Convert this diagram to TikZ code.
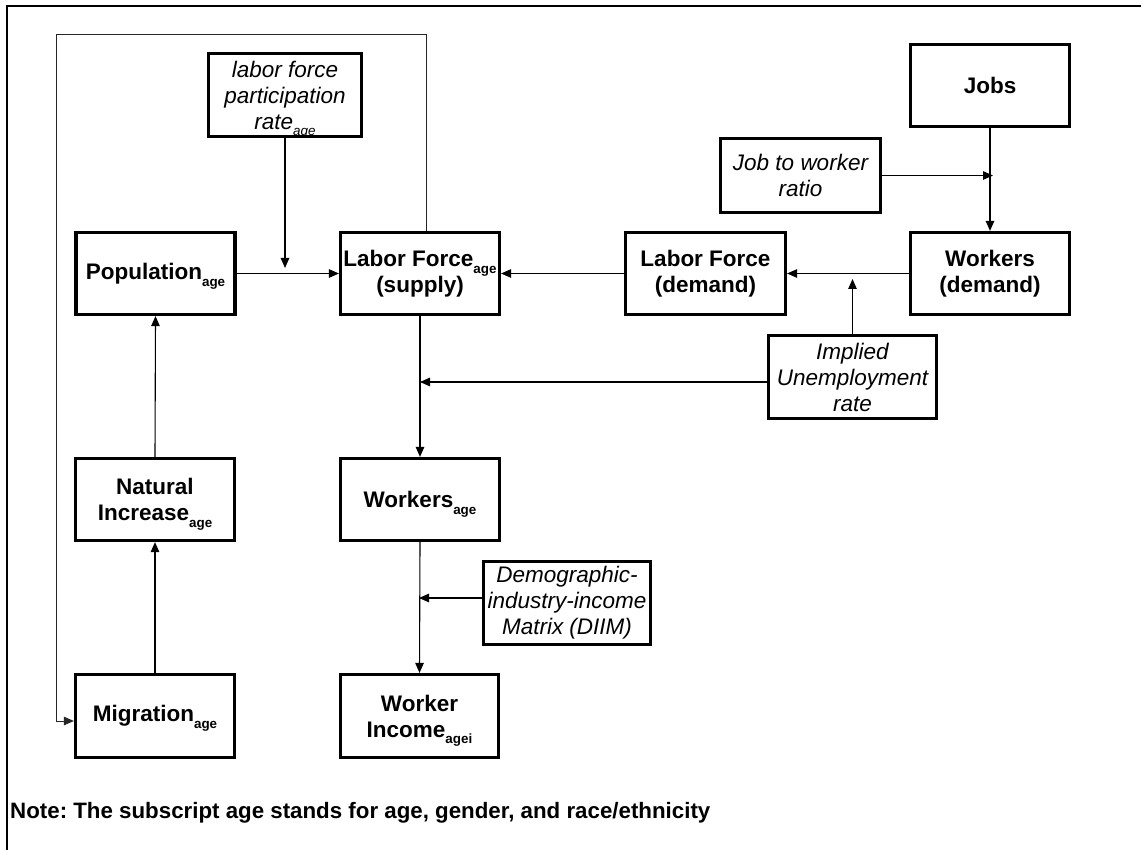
\documentclass[tikz,border=0pt]{standalone}
\usepackage{fontspec}
\setmainfont{Liberation Sans}
\usetikzlibrary{arrows.meta,calc}
\frenchspacing
\newcommand{\sbx}[1]{\smash{\raisebox{-0.3em}{\fontsize{13.4}{13.4}\selectfont #1}}}
\tikzset{
  box/.style={draw, line width=3.2pt, inner sep=0pt, minimum width=159pt, minimum height=82pt,
    align=center, font=\fontsize{22.5}{26}\selectfont\bfseries},
  ibox/.style={box, font=\fontsize{22.5}{26}\selectfont\itshape},
  arr/.style={line width=1.1pt, -{Triangle[length=10pt,width=8.5pt]}},
  loopline/.style={line width=0.9pt, black!85, -{Triangle[length=10pt,width=8.5pt]}},
}
\begin{document}
\begin{tikzpicture}[x=1pt,y=-1pt]
\useasboundingbox (0,0) rectangle (1141,850);
\fill[white] (0,0) rectangle (1141,850);
% outer frame (open on right and bottom)
\draw[line width=2pt, line join=miter] (7,852) -- (7,6) -- (1143,6);

% nodes
\node[ibox, minimum width=153pt, minimum height=83pt] (lfpr) at (285,95) {labor force\\participation\\rate\sbx{age}};
\node[box] (jobs) at (990,85.5) {Jobs};
\node[ibox, minimum width=160pt, minimum height=74pt] (jr) at (800.5,175.5) {Job to worker\\ratio};
\node[box] (pop) at (155.5,273.5) {Population\sbx{age}};
\node[box] (lfs) at (420,273.5) {Labor Force\sbx{age}\\(supply)};
\node[box, minimum width=160pt] (ld) at (705.5,273.5) {Labor Force\\(demand)};
\node[box] (wd) at (990,273.5) {Workers\\(demand)};
\node[ibox, minimum width=168pt, minimum height=83pt] (ue) at (852.5,377) {Implied\\Unemployment\\rate};
\node[box] (ni) at (155,499.5) {Natural\\Increase\sbx{age}};
\node[box] (wa) at (420,499.5) {Workers\sbx{age}};
\node[ibox, minimum width=167pt, minimum height=83pt] (diim) at (567,603) {Demographic-\\industry-income\\Matrix (DIIM)};
\node[box, minimum height=83pt] (mig) at (155,716) {Migration\sbx{age}};
\node[box, minimum width=158pt, minimum height=83pt] (inc) at (419.5,716) {Worker\\Income\sbx{agei}};

\node[anchor=base west, inner sep=0pt, font=\fontsize{22.3}{26}\selectfont\bfseries] (note) at (10,818)
  {Note: The subscript age stands for age, gender, and race/ethnicity};

% free ends
\coordinate (lfprtip) at (285,268);
\coordinate (uetip) at (853,279);
\coordinate (uearr) at (420,382);
\coordinate (jrtip) at (993,175.5);
\coordinate (diimtip) at (419,598);
\coordinate (loopA) at (56,34);

% connectors
\draw[arr] (lfpr.south) -- (lfprtip);
\draw[arr] (pop.east) -- (lfs.west);
\draw[arr] (wd.west) -- (ld.east);
\draw[arr] (ld.west) -- (lfs.east);
\draw[arr] (ue.north) -- (ue.north |- uetip);
\draw[arr] (ue.west |- uearr) -- (uearr);
\draw[arr] (lfs.south) -- (wa.north);
\draw[arr] (jobs.south) -- (wd.north);
\draw[arr] (jr.east) -- (jrtip);
\draw[arr] (wa.south) -- (inc.north);
\draw[arr] (diim.west |- diimtip) -- (diimtip);
\draw[arr] (ni.north) -- (pop.south);
\draw[arr] (mig.north) -- (ni.south);
\draw[loopline] ([xshift=6pt]lfs.north) |- (loopA) |- ([yshift=-5pt]mig.west);
\end{tikzpicture}
\end{document}
